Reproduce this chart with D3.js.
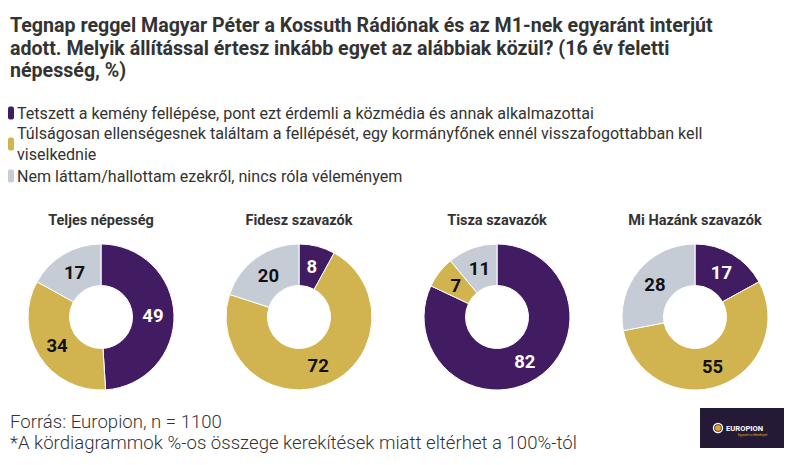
<!DOCTYPE html>
<html>
<head>
<meta charset="utf-8">
<script src="https://cdn.jsdelivr.net/npm/d3@7"></script>
<style>
  body { margin: 0; background: #fff; }
  svg { display: block; font-family: "Roboto", sans-serif; }
</style>
</head>
<body>
<script>
// Chart data
var titleLines = [
  "Tegnap reggel Magyar Péter a Kossuth Rádiónak és az M1-nek egyaránt interjút",
  "adott. Melyik állítással értesz inkább egyet az alábbiak közül? (16 év feletti",
  "népesség, %)"
];
var answers = [
  ["Tetszett a kemény fellépése, pont ezt érdemli a közmédia és annak alkalmazottai"],
  ["Túlságosan ellenségesnek találtam a fellépését, egy kormányfőnek ennél visszafogottabban kell", "viselkednie"],
  ["Nem láttam/hallottam ezekről, nincs róla véleményem"]
];
var groups = ["Teljes népesség", "Fidesz szavazók", "Tisza szavazók", "Mi Hazánk szavazók"];
var liked = [49, 8, 82, 17];
var hostile = [34, 72, 7, 55];
var unknown = [17, 20, 11, 28];
var footerLines = ["Forrás: Europion, n = 1100", "*A kördiagrammok %-os összege kerekítések miatt eltérhet a 100%-tól"];

var colors = ["#421c63", "#d1b34f", "#c5ccd5"];
var labelColors = ["#ffffff", "#111111", "#111111"];

var svgWidth = 795;
var svgHeight = 465;

var svg = d3.select("body")
  .append("svg")
  .attr("width", svgWidth)
  .attr("height", svgHeight);

// Title
svg.append("g")
  .selectAll("text")
  .data(titleLines)
  .enter()
  .append("text")
  .attr("x", 10)
  .attr("y", (d, i) => 32 + i * 22.5)
  .attr("font-size", 19.6)
  .attr("font-weight", "bold")
  .attr("fill", "#333")
  .text(d => d);

// Legend
var legendY = [113, 144, 176];
var legend = svg.append("g")
  .selectAll("g")
  .data(answers)
  .enter()
  .append("g")
  .attr("transform", (d, i) => `translate(0, ${legendY[i]})`);

legend.append("rect")
  .attr("x", 8)
  .attr("y", -6.5)
  .attr("width", 6)
  .attr("height", 13)
  .attr("rx", 2)
  .attr("fill", (d, i) => colors[i]);

legend.each(function(lines) {
  var g = d3.select(this);
  var offset = -(lines.length - 1) * 10.5;
  lines.forEach(function(line, j) {
    g.append("text")
      .attr("x", 17)
      .attr("y", offset + j * 21 + 5.5)
      .attr("font-size", 16.1)
      .attr("fill", "#333")
      .text(line);
  });
});

// Donuts
var x = d3.scalePoint()
  .domain(groups)
  .range([101, 695]);

var outerR = 73;
var innerR = 31.5;
var pie = d3.pie().sort(null).value(d => d);
var arc = d3.arc().innerRadius(innerR).outerRadius(outerR);
var labelArc = d3.arc().innerRadius(52).outerRadius(52);

groups.forEach(function(name, i) {
  var values = [liked[i], hostile[i], unknown[i]];
  var g = svg.append("g")
    .attr("transform", `translate(${x(name)}, 317)`);

  g.append("text")
    .attr("x", 0)
    .attr("y", -92)
    .attr("text-anchor", "middle")
    .attr("font-size", 14.5)
    .attr("font-weight", "bold")
    .attr("fill", "#333")
    .text(name);

  var slices = pie(values);

  g.selectAll("path")
    .data(slices)
    .enter()
    .append("path")
    .attr("d", arc)
    .attr("fill", (d, j) => colors[j])
    .attr("stroke", "#fff")
    .attr("stroke-width", 1);

  g.selectAll("text.val")
    .data(slices)
    .enter()
    .append("text")
    .classed("val", true)
    .attr("transform", d => `translate(${labelArc.centroid(d)})`)
    .attr("text-anchor", "middle")
    .attr("dy", "0.36em")
    .attr("font-size", 18.5)
    .attr("font-weight", "bold")
    .attr("fill", (d, j) => labelColors[j])
    .text(d => d.data);
});

// Footer
svg.append("g")
  .selectAll("text")
  .data(footerLines)
  .enter()
  .append("text")
  .attr("x", 10)
  .attr("y", (d, i) => 427.5 + i * 21)
  .attr("font-size", 18.6)
  .attr("font-weight", 300)
  .attr("fill", "#333")
  .text(d => d);

// Logo
var logo = svg.append("g")
  .attr("transform", "translate(700, 408)");

logo.append("rect")
  .attr("width", 84)
  .attr("height", 40)
  .attr("fill", "#241a35");

logo.append("circle")
  .attr("cx", 18)
  .attr("cy", 20)
  .attr("r", 4.5)
  .attr("fill", "none")
  .attr("stroke", "#fff")
  .attr("stroke-width", 1.4);

logo.append("circle")
  .attr("cx", 18)
  .attr("cy", 20)
  .attr("r", 3)
  .attr("fill", "#e8a229");

logo.append("text")
  .attr("x", 26)
  .attr("y", 22.5)
  .attr("font-size", 7.6)
  .attr("font-weight", "bold")
  .attr("fill", "#fff")
  .text("EUROPION");

logo.append("text")
  .attr("x", 38)
  .attr("y", 27.5)
  .attr("font-size", 2.8)
  .attr("fill", "#e8a229")
  .text("Egyszerű a véleményed");
</script>
</body>
</html>
